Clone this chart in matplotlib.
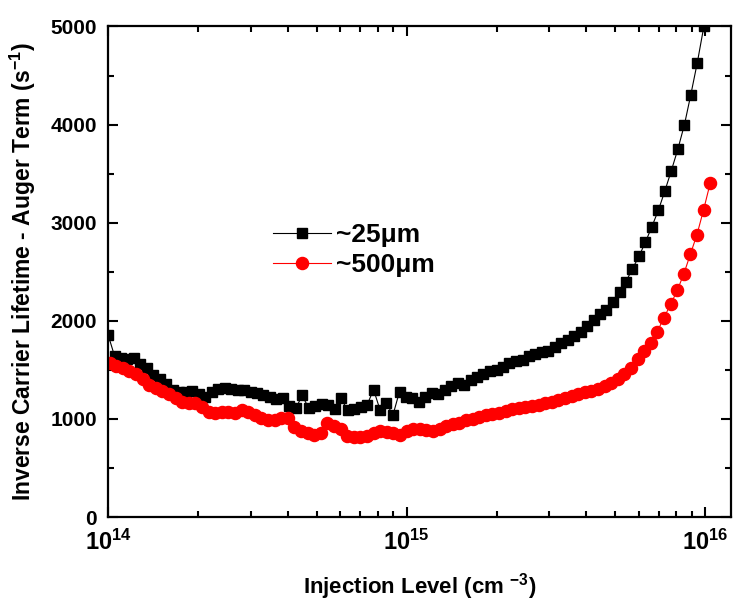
import numpy as np
import matplotlib
matplotlib.use("Agg")
import matplotlib.pyplot as plt
from matplotlib.ticker import FixedLocator, FuncFormatter, MultipleLocator, LogLocator, NullFormatter

plt.rcParams["font.family"] = ["Liberation Sans", "DejaVu Sans"]
plt.rcParams["font.weight"] = "bold"
plt.rcParams["mathtext.fontset"] = "custom"
plt.rcParams["mathtext.rm"] = "Liberation Sans:bold"
plt.rcParams["mathtext.bf"] = "Liberation Sans:bold"
plt.rcParams["mathtext.it"] = "Liberation Sans:bold:italic"
plt.rcParams["mathtext.default"] = "bf"

# ~25 um sample: log10(injection level) and inverse lifetime - Auger term (1/s)
exp_25um = [
    14.000, 14.022, 14.043, 14.065, 14.087, 14.108, 14.130, 14.152, 14.173, 14.195,
    14.217, 14.238, 14.260, 14.282, 14.304, 14.325, 14.347, 14.369, 14.390, 14.412,
    14.434, 14.455, 14.477, 14.499, 14.520, 14.542, 14.564, 14.585, 14.607, 14.629,
    14.650, 14.672, 14.694, 14.715, 14.737, 14.759, 14.780, 14.802, 14.824, 14.846,
    14.867, 14.889, 14.911, 14.932, 14.954, 14.976, 14.997, 15.019, 15.041, 15.062,
    15.084, 15.106, 15.127, 15.149, 15.171, 15.192, 15.214, 15.236, 15.257, 15.279,
    15.301, 15.322, 15.344, 15.366, 15.388, 15.409, 15.431, 15.453, 15.474, 15.496,
    15.518, 15.539, 15.561, 15.583, 15.604, 15.626, 15.648, 15.669, 15.691, 15.713,
    15.734, 15.756, 15.778, 15.799, 15.821, 15.843, 15.864, 15.886, 15.908, 15.930,
    15.951, 15.973, 15.995,
]
val_25um = [
    1860, 1640, 1620, 1610, 1620, 1560, 1520, 1450, 1410, 1360,
    1300, 1280, 1270, 1290, 1250, 1220, 1280, 1310, 1320, 1310,
    1300, 1300, 1280, 1260, 1240, 1220, 1200, 1210, 1130, 1110,
    1240, 1110, 1130, 1150, 1140, 1100, 1210, 1090, 1100, 1120,
    1140, 1300, 1090, 1160, 1040, 1280, 1220, 1210, 1170, 1220,
    1260, 1250, 1300, 1340, 1370, 1350, 1400, 1430, 1460, 1490,
    1500, 1530, 1570, 1590, 1600, 1640, 1660, 1680, 1690, 1730,
    1770, 1800, 1850, 1890, 1950, 2010, 2070, 2110, 2190, 2290,
    2400, 2530, 2660, 2800, 2960, 3130, 3320, 3530, 3750, 4000,
    4300, 4630, 5000,
]

# ~500 um sample
exp_500um = [
    14.005, 14.027, 14.049, 14.071, 14.093, 14.116, 14.138, 14.160, 14.182, 14.204,
    14.226, 14.248, 14.270, 14.292, 14.314, 14.337, 14.359, 14.381, 14.403, 14.425,
    14.447, 14.469, 14.491, 14.513, 14.535, 14.558, 14.580, 14.602, 14.624, 14.646,
    14.668, 14.690, 14.712, 14.734, 14.756, 14.779, 14.801, 14.823, 14.845, 14.867,
    14.889, 14.911, 14.933, 14.955, 14.977, 15.000, 15.022, 15.044, 15.066, 15.088,
    15.110, 15.132, 15.154, 15.176, 15.198, 15.221, 15.243, 15.265, 15.287, 15.309,
    15.331, 15.353, 15.375, 15.397, 15.419, 15.442, 15.464, 15.486, 15.508, 15.530,
    15.552, 15.574, 15.596, 15.618, 15.640, 15.663, 15.685, 15.707, 15.729, 15.751,
    15.773, 15.795, 15.817, 15.839, 15.861, 15.884, 15.906, 15.928, 15.950, 15.972,
    15.994, 16.016,
]
val_500um = [
    1570, 1540, 1520, 1490, 1460, 1410, 1350, 1316, 1290, 1250,
    1215, 1175, 1165, 1160, 1120, 1075, 1060, 1075, 1070, 1060,
    1090, 1070, 1040, 1010, 990, 990, 1010, 1010, 920, 880,
    860, 840, 860, 960, 930, 900, 830, 820, 820, 830,
    860, 880, 870, 860, 840, 880, 900, 900, 890, 880,
    900, 930, 950, 960, 990, 1000, 1020, 1040, 1050, 1060,
    1080, 1100, 1110, 1120, 1130, 1140, 1160, 1175, 1195, 1215,
    1235, 1255, 1270, 1290, 1310, 1335, 1370, 1410, 1460, 1520,
    1610, 1690, 1770, 1890, 2030, 2170, 2310, 2480, 2680, 2880,
    3130, 3400,
]

labels = ["~25\u03bcm", "~500\u03bcm"]
x_ticks = [1e14, 1e15, 1e16]
y_ticks = [0, 1000, 2000, 3000, 4000, 5000]

fig = plt.figure(figsize=(7.35, 6.02), dpi=100)
ax = fig.add_axes([0.147, 0.141, 0.848, 0.815])

ax.plot(10 ** np.array(exp_25um), val_25um, color="black", lw=0.8, marker="s",
        ms=7.8, mec="black", mfc="black", label=labels[0])
ax.plot(10 ** np.array(exp_500um), val_500um, color="red", lw=0.8, marker="o",
        ms=8.7, mec="red", mfc="red", label=labels[1])

ax.set_xscale("log")
ax.set_xlim(1e14, 10 ** 16.087)
ax.set_ylim(0, 5000)

ax.xaxis.set_major_locator(FixedLocator(x_ticks))
ax.xaxis.set_major_formatter(FuncFormatter(lambda v, p: r"$\mathbf{10^{%d}}$" % round(np.log10(v))))
ax.xaxis.set_minor_locator(LogLocator(base=10, subs=np.arange(2, 10)))
ax.xaxis.set_minor_formatter(NullFormatter())
ax.yaxis.set_major_locator(FixedLocator(y_ticks))
ax.yaxis.set_minor_locator(MultipleLocator(500))

ax.tick_params(which="both", direction="in", top=True, right=True, width=1.5)
ax.tick_params(which="major", length=7, labelsize=15, pad=8)
ax.tick_params(which="minor", length=4)
ax.tick_params(axis="x", which="major", pad=9, labelsize=17)
for lab in ax.get_yticklabels():
    lab.set_fontweight("bold")
for s in ax.spines.values():
    s.set_linewidth(1.6)

ax.set_xlabel(r"Injection Level (cm $^{-3}$)", fontsize=16, fontweight="bold", labelpad=12)
ax.set_ylabel(r"Inverse Carrier Lifetime - Auger Term (s$^{-1}$)", fontsize=16.5,
              fontweight="bold", labelpad=9)

ax.legend(loc="upper left", bbox_to_anchor=(0.247, 0.62), borderaxespad=0, frameon=False,
          prop={"size": 19, "weight": "bold"}, handlelength=2.2, handletextpad=0.2,
          labelspacing=0.2)

fig.savefig("out.png", dpi=100)
